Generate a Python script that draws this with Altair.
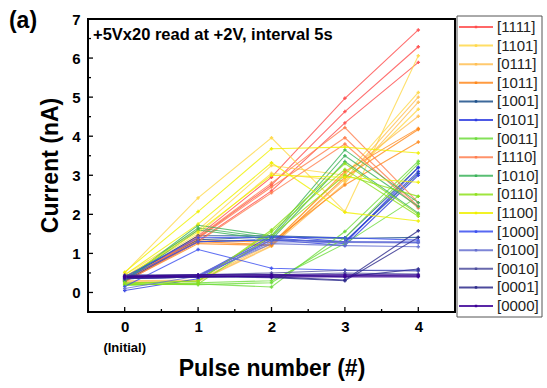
import altair as alt
import pandas as pd

FONT = "Liberation Sans"

pulses = [0, 1, 2, 3, 4]
codes = ["1111", "1101", "0111", "1011", "1001", "0101", "0011", "1110",
         "1010", "0110", "1100", "1000", "0100", "0010", "0001", "0000"]
labels = ["[" + c + "]" for c in codes]
colors = ["#FF4C4C", "#FFD84A", "#FFBF55", "#FF8A1E", "#1B4F8A", "#2E3CE0",
          "#6EDC3C", "#FF7F50", "#3CB35A", "#8EE01C", "#F0F000", "#3A4EF0",
          "#6670D0", "#4E4E9E", "#2D2A8C", "#3C0096"]

# current (nA) per run, at pulse 0..4
s1111 = [[0.30, 1.45, 2.95, 4.97, 6.72], [0.28, 1.40, 2.75, 4.63, 6.29], [0.33, 1.32, 2.60, 4.34, 5.89]]
s1101 = [[0.50, 2.42, 3.96, 2.07, 6.06], [0.45, 1.60, 3.25, 3.00, 5.12], [0.38, 1.50, 3.05, 2.85, 4.69]]
s0111 = [[0.28, 0.30, 1.20, 2.90, 5.00], [0.25, 0.28, 1.18, 2.80, 4.87], [0.30, 0.32, 1.25, 3.05, 4.51]]
s1011 = [[0.30, 1.30, 1.22, 3.10, 4.20], [0.28, 1.25, 1.20, 2.95, 4.17], [0.32, 1.35, 1.28, 2.75, 3.85]]
s1001 = [[0.35, 1.45, 1.45, 1.40, 3.20], [0.30, 1.30, 1.35, 1.30, 3.05], [0.40, 1.35, 1.42, 1.38, 1.41]]
s0101 = [[0.40, 0.42, 1.45, 1.30, 3.10], [0.35, 0.40, 1.40, 1.25, 3.20], [0.05, 0.35, 1.35, 1.20, 3.00]]
s0011 = [[0.20, 0.22, 0.14, 1.56, 3.36], [0.22, 0.20, 0.25, 1.40, 3.30], [0.18, 0.25, 0.30, 1.25, 2.46]]
s1110 = [[0.30, 1.42, 2.80, 4.22, 2.30], [0.32, 1.38, 2.70, 3.96, 2.20], [0.27, 1.30, 2.55, 3.80, 2.16]]
s1010 = [[0.30, 1.72, 1.45, 3.65, 2.30], [0.32, 1.65, 1.40, 3.50, 2.20], [0.28, 1.60, 1.35, 3.35, 2.03]]
s0110 = [[0.25, 0.28, 1.60, 3.30, 2.00], [0.22, 0.30, 1.55, 3.15, 1.95], [0.20, 0.22, 1.45, 3.00, 2.46]]
s1100 = [[0.52, 2.07, 3.68, 3.72, 3.57], [0.45, 1.75, 3.32, 2.05, 1.83], [0.40, 1.55, 3.00, 2.95, 2.82]]
s1000 = [[0.35, 1.30, 1.35, 1.30, 1.28], [0.15, 1.10, 0.62, 0.57, 0.57], [0.40, 1.40, 1.42, 1.40, 1.34]]
s0100 = [[0.40, 0.45, 1.35, 1.30, 1.30], [0.35, 0.40, 1.30, 1.28, 1.27], [0.10, 0.42, 1.25, 1.20, 1.17]]
s0010 = [[0.40, 0.42, 0.45, 0.50, 0.47], [0.45, 0.45, 0.50, 0.57, 0.55], [0.35, 0.40, 0.42, 0.45, 0.42]]
s0001 = [[0.40, 0.42, 0.40, 0.32, 1.58], [0.35, 0.40, 0.38, 0.30, 1.41], [0.42, 0.45, 0.45, 0.40, 0.60]]
s0000 = [[0.42, 0.45, 0.45, 0.45, 0.45], [0.40, 0.40, 0.42, 0.42, 0.42], [0.38, 0.42, 0.40, 0.40, 0.40]]

series = [s1111, s1101, s0111, s1011, s1001, s0101, s0011, s1110,
          s1010, s0110, s1100, s1000, s0100, s0010, s0001, s0000]

y_major = [0, 1, 2, 3, 4, 5, 6, 7]
y_minor = [0.5, 1.5, 2.5, 3.5, 4.5, 5.5, 6.5]
x_major = [0, 1, 2, 3, 4]
x_minor = [0.5, 1.5, 2.5, 3.5]

rows = []
for lab, runs in zip(labels, series):
    for r, vals in enumerate(runs):
        for p, v in zip(pulses, vals):
            rows.append({"label": lab, "run": f"{lab}-{r}", "pulse": p, "current": v})
df = pd.DataFrame(rows)

color_scale = alt.Scale(domain=labels, range=colors)
xs = alt.Scale(domain=[-0.5, 4.5], nice=False, zero=False)
ys = alt.Scale(domain=[-0.5, 7], nice=False, zero=False)

x_axis = alt.Axis(
    values=x_major, ticks=False, domain=False, grid=False, labelPadding=7,
    labelFontSize=15, labelFontWeight="bold", labelColor="black",
    titleFontSize=23, titleFontWeight="bold",
    titleY=56, titleBaseline="middle", titleColor="black")
y_axis = alt.Axis(
    values=y_major, ticks=False, domain=False, grid=False, labelPadding=8,
    labelFontSize=15, labelFontWeight="bold", labelColor="black",
    titleFontSize=23, titleFontWeight="bold",
    titleX=-38, titleY=146, titleAngle=270, titleBaseline="middle",
    titleAlign="center", titleColor="black")
XT = "Pulse number (#)"
YT = "Current (nA)"

lines = alt.Chart(df).mark_line(
    strokeWidth=1.1, opacity=0.8,
    point=alt.OverlayMarkDef(shape="cross", size=12, filled=True, opacity=0.9),
).encode(
    x=alt.X("pulse:Q", scale=xs, axis=x_axis, title=XT),
    y=alt.Y("current:Q", scale=ys, axis=y_axis, title=YT),
    color=alt.Color("label:N", scale=color_scale, legend=None),
    detail="run:N",
)

def yticks(vals, length):
    return alt.Chart(pd.DataFrame({"current": vals})).mark_rule(color="black", strokeWidth=1.3).encode(
        y=alt.Y("current:Q", scale=ys, axis=y_axis, title=YT), x=alt.value(0), x2=alt.value(length))

def xticks(vals, length):
    return alt.Chart(pd.DataFrame({"pulse": vals})).mark_rule(color="black", strokeWidth=1.3).encode(
        x=alt.X("pulse:Q", scale=xs, axis=x_axis, title=XT), y=alt.value(293), y2=alt.value(293 - length))

one = pd.DataFrame({"pulse": [0]})
txt_initial = alt.Chart(one).mark_text(font=FONT, fontSize=13, fontWeight="bold", color="black",
                                       baseline="middle").encode(
    x=alt.X("pulse:Q", scale=xs, axis=x_axis, title=XT), y=alt.value(329), text=alt.value("(Initial)"))
txt_annot = alt.Chart(one).mark_text(font=FONT, fontSize=16.5, fontWeight="bold", color="black",
                                     align="left", baseline="middle").encode(
    x=alt.value(5), y=alt.value(16), text=alt.value("+5Vx20 read at +2V, interval 5s"))
txt_a = alt.Chart(one).mark_text(font=FONT, fontSize=23, fontWeight="bold", color="black",
                                 baseline="middle").encode(
    x=alt.value(-65), y=alt.value(2), text=alt.value("(a)"))

main = alt.layer(lines, yticks(y_major, 5), yticks(y_minor, 3), xticks(x_major, 5), xticks(x_minor, 3),
                 txt_initial, txt_annot, txt_a)

leg_df = pd.DataFrame({"label": labels})
ly = alt.Y("label:N", scale=alt.Scale(type="point", domain=labels, range=[8, 287], padding=0), axis=None)
box = alt.Chart(one).mark_rect(fill="white", stroke="#555555", strokeWidth=1).encode(
    x=alt.value(369), x2=alt.value(454), y=alt.value(-3), y2=alt.value(298))
leg_lines = alt.Chart(leg_df).mark_rule(strokeWidth=2, opacity=0.85).encode(
    y=ly, x=alt.value(371), x2=alt.value(405),
    color=alt.Color("label:N", scale=color_scale, legend=None))
leg_pts = alt.Chart(leg_df).mark_point(shape="square", size=6, filled=True, opacity=1).encode(
    y=ly, x=alt.value(388), color=alt.Color("label:N", scale=color_scale, legend=None))
leg_txt = alt.Chart(leg_df).mark_text(font=FONT, fontSize=15, color="#222222", align="left",
                                      baseline="middle").encode(
    y=ly, x=alt.value(409), text="label:N")
legend = alt.layer(box, leg_lines, leg_pts, leg_txt)

chart = alt.layer(main, legend).resolve_scale(y="independent").properties(
    width=367, height=293, autosize="none",
    padding={"left": 88, "top": 19, "right": 92, "bottom": 76},
).configure(font=FONT).configure_view(stroke="black", strokeWidth=2)

chart.save("out.html", embed_options={"renderer": "svg", "actions": False})
